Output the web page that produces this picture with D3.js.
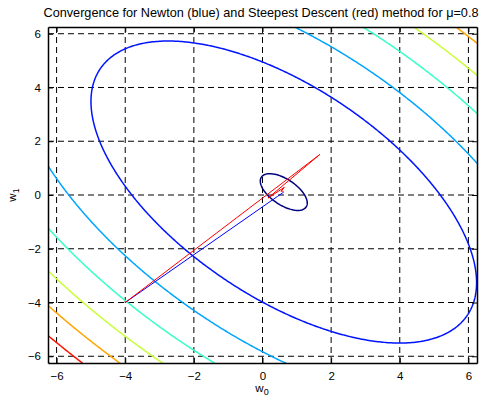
<!DOCTYPE html>
<html>
<head>
<meta charset="utf-8">
<script src="https://cdn.jsdelivr.net/npm/d3@7"></script>
<style>
  body { margin: 0; background: #fff; }
  svg { font-family: "Liberation Sans", Arial, Helvetica, sans-serif; }
</style>
</head>
<body>
<svg id="chart" width="483" height="404"></svg>
<script>
// ticks
const xTicks = [-6, -4, -2, 0, 2, 4, 6];
const yTicks = [-6, -4, -2, 0, 2, 4, 6];

// error surface J = (w - wOpt)' R (w - wOpt)
const wOpt = [0.62, 0.11];
const R = [[1, 0.6], [0.6, 1]];
const levels = [0.3, 20.2, 40.1, 60, 79.9, 99.8, 119.7, 139.6];
const levelColors = ["#000080", "#0014ff", "#00a5ff", "#36ffc8", "#c8ff36", "#ffa400", "#ff1200", "#820000"];

// Newton iterates (blue)
const newtonW0 = [-4, -0.304, 0.435, 0.583, 0.613, 0.619, 0.62];
const newtonW1 = [-4, -0.712, -0.054, 0.077, 0.103, 0.109, 0.11];

// steepest descent iterates (red)
const sdW0 = [-4, 1.669, 0.160, 0.636, 0.539, 0.590, 0.593, 0.603, 0.608, 0.612];
const sdW1 = [-4, 1.506, -0.114, 0.286, 0.138, 0.155, 0.133, 0.128, 0.121, 0.118];

const svg = d3.select("#chart");

let canvas = {
  "left": 48,
  "top": 27,
  "right": 477,
  "bottom": 363
};

let xScale = d3.scaleLinear().domain([-6.25, 6.25]).range([canvas.left, canvas.right]);
let yScale = d3.scaleLinear().domain([-6.25, 6.25]).range([canvas.bottom, canvas.top]);

svg.append("defs").append("clipPath").attr("id", "plot-clip")
  .append("rect")
  .attr("x", canvas.left)
  .attr("y", canvas.top)
  .attr("width", canvas.right - canvas.left)
  .attr("height", canvas.bottom - canvas.top);

// grid
let grid = svg.append("g").attr("stroke", "#000").attr("stroke-width", 1).attr("stroke-dasharray", "6,4");
grid.selectAll(".vgrid")
  .data(xTicks)
  .join("line")
  .attr("x1", d => xScale(d))
  .attr("x2", d => xScale(d))
  .attr("y1", canvas.top)
  .attr("y2", canvas.bottom);
grid.selectAll(".hgrid")
  .data(yTicks)
  .join("line")
  .attr("y1", d => yScale(d))
  .attr("y2", d => yScale(d))
  .attr("x1", canvas.left)
  .attr("x2", canvas.right);

// contours: sample the surface on a grid bigger than the view so rings close
const step = 0.05, g0 = -16, n = 641;
let values = new Array(n * n);
for (let j = 0; j < n; j++) {
  for (let i = 0; i < n; i++) {
    let d0 = g0 + i * step - wOpt[0];
    let d1 = g0 + j * step - wOpt[1];
    let J = R[0][0] * d0 * d0 + 2 * R[0][1] * d0 * d1 + R[1][1] * d1 * d1;
    values[j * n + i] = -J;
  }
}

let contours = d3.contours()
  .size([n, n])
  .thresholds(levels.map(l => -l))(values);

let proj = d3.geoTransform({
  point: function(x, y) {
    this.stream.point(xScale(g0 + (x - 0.5) * step), yScale(g0 + (y - 0.5) * step));
  }
});
let path = d3.geoPath(proj);

let plot = svg.append("g").attr("clip-path", "url(#plot-clip)");

plot.selectAll(".contour")
  .data(contours)
  .join("path")
  .attr("class", "contour")
  .attr("d", path)
  .attr("fill", "none")
  .attr("stroke", d => levelColors[levels.indexOf(-d.value)])
  .attr("stroke-width", 1.5);

let line = d3.line()
  .x(d => xScale(d[0]))
  .y(d => yScale(d[1]));

plot.append("path")
  .datum(newtonW0.map((v, i) => [v, newtonW1[i]]))
  .attr("d", line)
  .attr("fill", "none")
  .attr("stroke", "#0000ff")
  .attr("stroke-width", 1);

plot.append("path")
  .datum(sdW0.map((v, i) => [v, sdW1[i]]))
  .attr("d", line)
  .attr("fill", "none")
  .attr("stroke", "#ff0000")
  .attr("stroke-width", 1);

// axes, ticks point inward on all sides
svg.append("g")
  .attr("transform", `translate(0, ${canvas.bottom})`)
  .call(d3.axisBottom(xScale).tickValues(xTicks).tickSizeInner(-5).tickSizeOuter(0).tickPadding(9));
svg.append("g")
  .attr("transform", `translate(0, ${canvas.top})`)
  .call(d3.axisTop(xScale).tickValues(xTicks).tickSizeInner(-5).tickSizeOuter(0).tickFormat(""));
svg.append("g")
  .attr("transform", `translate(${canvas.left}, 0)`)
  .call(d3.axisLeft(yScale).tickValues(yTicks).tickSizeInner(-5).tickSizeOuter(0).tickPadding(7));
svg.append("g")
  .attr("transform", `translate(${canvas.right}, 0)`)
  .call(d3.axisRight(yScale).tickValues(yTicks).tickSizeInner(-5).tickSizeOuter(0).tickFormat(""));

svg.selectAll(".domain").attr("stroke", "#000").attr("stroke-width", 1.5);
svg.selectAll(".tick line").attr("stroke", "#000");
svg.selectAll(".tick text")
  .attr("fill", "#000")
  .attr("font-size", "11.5px")
  .attr("font-family", "\"Liberation Sans\", Arial, sans-serif");

// title and labels
svg.append("text")
  .attr("x", 261)
  .attr("y", 17)
  .attr("text-anchor", "middle")
  .attr("font-size", "12.7px")
  .text("Convergence for Newton (blue) and Steepest Descent (red) method for \u03bc=0.8");

let xl = svg.append("text")
  .attr("x", 262)
  .attr("y", 392)
  .attr("text-anchor", "middle")
  .attr("font-size", "11.5px");
xl.append("tspan").text("w");
xl.append("tspan").attr("dy", 3).attr("font-size", "9px").text("0");

let yl = svg.append("text")
  .attr("transform", `translate(16, ${(canvas.top + canvas.bottom) / 2}) rotate(-90)`)
  .attr("text-anchor", "middle")
  .attr("font-size", "11.5px");
yl.append("tspan").text("w");
yl.append("tspan").attr("dy", 3).attr("font-size", "9px").text("1");
</script>
</body>
</html>
